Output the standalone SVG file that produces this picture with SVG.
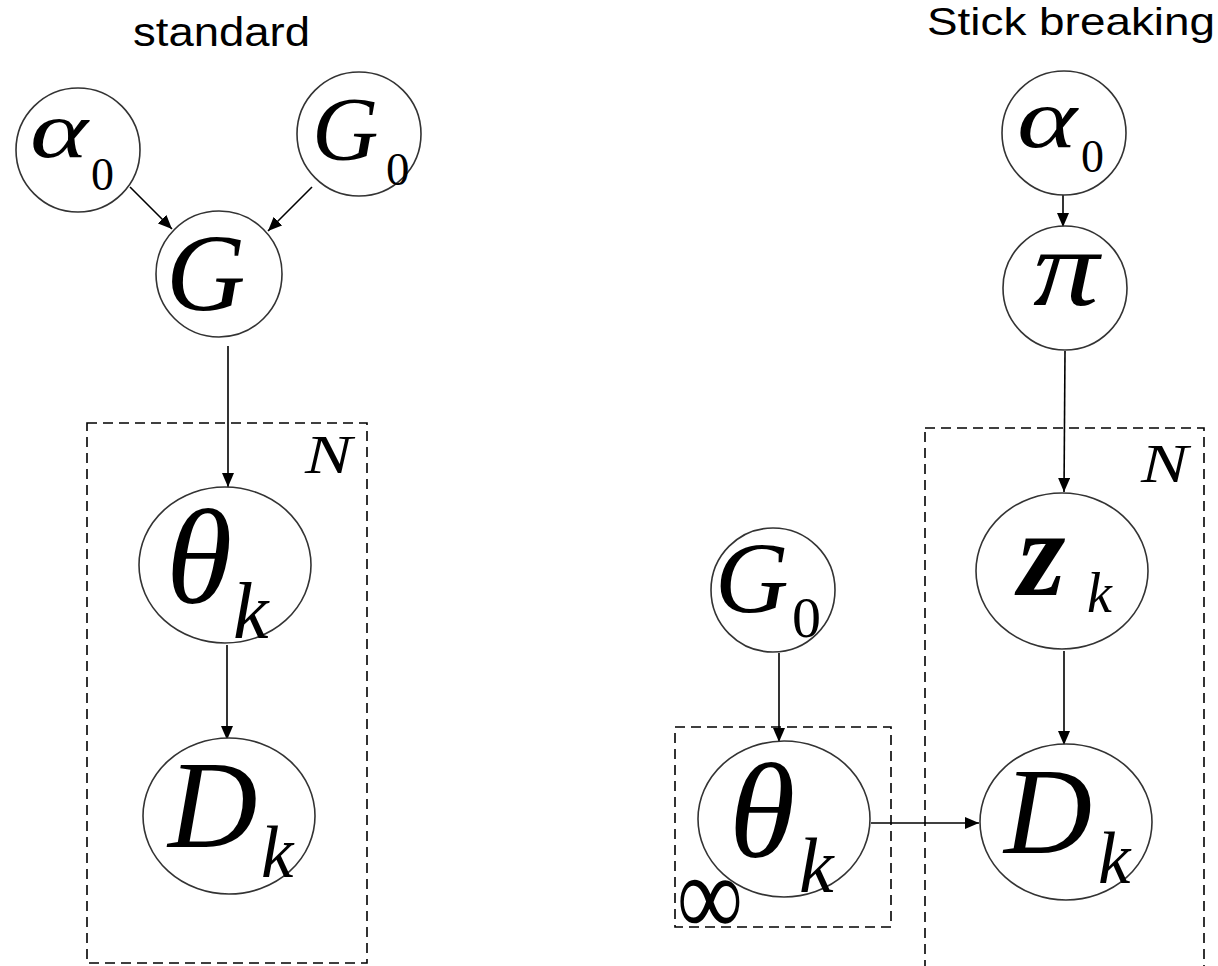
<svg xmlns="http://www.w3.org/2000/svg" width="1218" height="966" viewBox="0 0 1218 966">
<defs>
<marker id="arr" markerUnits="userSpaceOnUse" markerWidth="15" markerHeight="12" refX="14" refY="6" orient="auto">
<path d="M0,0 L14,6 L0,12 z" fill="#000"/>
</marker>
<style>
.node{fill:#fff;stroke:#333;stroke-width:1.6}
.plate{fill:none;stroke:#000;stroke-width:1.6;stroke-dasharray:10,6}
.edge{stroke:#000;stroke-width:1.6;fill:none;marker-end:url(#arr)}
.m{font-family:"Liberation Serif","Times New Roman",serif;font-style:italic;fill:#000}
.s{font-family:"Liberation Serif","Times New Roman",serif;fill:#000}
.t{font-family:"Liberation Sans",Arial,sans-serif;fill:#000;font-size:40px}
</style>
</defs>
<rect width="1218" height="966" fill="#fff"/>
<text class="t" x="133" y="46" textLength="177" lengthAdjust="spacingAndGlyphs">standard</text>
<text class="t" x="927" y="35" font-size="39" style="font-size:39px" textLength="288" lengthAdjust="spacingAndGlyphs">Stick breaking</text>
<g id="plates">
<rect id="plateN-left" class="plate" x="87" y="423" width="280" height="540"/>
<text class="m" x="305" y="473" font-size="54" textLength="47" lengthAdjust="spacingAndGlyphs">N</text>
<rect id="plateN-right" class="plate" x="925" y="428" width="279" height="560"/>
<text class="m" x="1141" y="482" font-size="54" textLength="47" lengthAdjust="spacingAndGlyphs">N</text>
<rect id="plateInf" class="plate" x="675" y="727" width="216" height="200"/>
<text class="s" x="677" y="935" font-size="115" textLength="66" lengthAdjust="spacingAndGlyphs">∞</text>
</g>
<g id="connectors">
<line class="edge" x1="130" y1="187" x2="172" y2="229"/>
<line class="edge" x1="312" y1="187" x2="268" y2="231"/>
<line class="edge" x1="228" y1="346" x2="228" y2="487"/>
<line class="edge" x1="227" y1="645" x2="227" y2="740"/>
<line class="edge" x1="1063" y1="195" x2="1063" y2="227"/>
<line class="edge" x1="1065" y1="351" x2="1064" y2="492"/>
<line class="edge" x1="1064" y1="651" x2="1064" y2="745"/>
<line class="edge" x1="779" y1="653" x2="779" y2="742"/>
<line class="edge" x1="871" y1="823" x2="979" y2="823"/>
</g>
<g id="alpha0-left">
<circle class="node" cx="78" cy="150" r="62"/>
<text class="m" x="30" y="157" font-size="80" textLength="58" lengthAdjust="spacingAndGlyphs">α</text>
<text class="s" x="91" y="190" font-size="46">0</text>
</g>
<g id="G0-left">
<circle class="node" cx="359" cy="134" r="62"/>
<text class="m" x="312" y="160" font-size="92">G</text>
<text class="s" x="386" y="185" font-size="47">0</text>
</g>
<g id="G">
<circle class="node" cx="219" cy="274" r="63"/>
<text class="m" x="166" y="310" font-size="110">G</text>
</g>
<g id="theta-left">
<ellipse class="node" cx="225" cy="565" rx="86" ry="78"/>
<text class="m" x="166" y="603" font-size="135">θ</text>
<text class="m" x="233" y="638" font-size="80">k</text>
</g>
<g id="D-left">
<ellipse class="node" cx="229" cy="816" rx="86" ry="78"/>
<text class="m" x="168" y="847" font-size="124">D</text>
<text class="m" x="261" y="877" font-size="73">k</text>
</g>
<g id="alpha0-right">
<circle class="node" cx="1064" cy="133" r="62"/>
<text class="m" x="1017" y="147" font-size="84" textLength="60" lengthAdjust="spacingAndGlyphs">α</text>
<text class="s" x="1081" y="172" font-size="46">0</text>
</g>
<g id="pi">
<circle class="node" cx="1065" cy="288" r="62"/>
<text class="m" x="1033" y="305" font-size="110" textLength="66" lengthAdjust="spacingAndGlyphs">π</text>
</g>
<g id="z">
<ellipse class="node" cx="1062" cy="571" rx="86" ry="78"/>
<text class="m" x="1018" y="595" font-size="122" font-weight="bold">z</text>
<text class="m" x="1087" y="612" font-size="56">k</text>
</g>
<g id="G0-right">
<circle class="node" cx="773" cy="590" r="62"/>
<text class="m" x="715" y="613" font-size="102">G</text>
<text class="s" x="792" y="637" font-size="58">0</text>
</g>
<g id="theta-right">
<ellipse class="node" cx="784" cy="819" rx="86" ry="78"/>
<text class="m" x="729" y="857" font-size="135">θ</text>
<text class="m" x="799" y="892" font-size="78">k</text>
</g>
<g id="D-right">
<ellipse class="node" cx="1066" cy="822" rx="86" ry="78"/>
<text class="m" x="1004" y="853" font-size="122">D</text>
<text class="m" x="1098" y="883" font-size="73">k</text>
</g>
</svg>
